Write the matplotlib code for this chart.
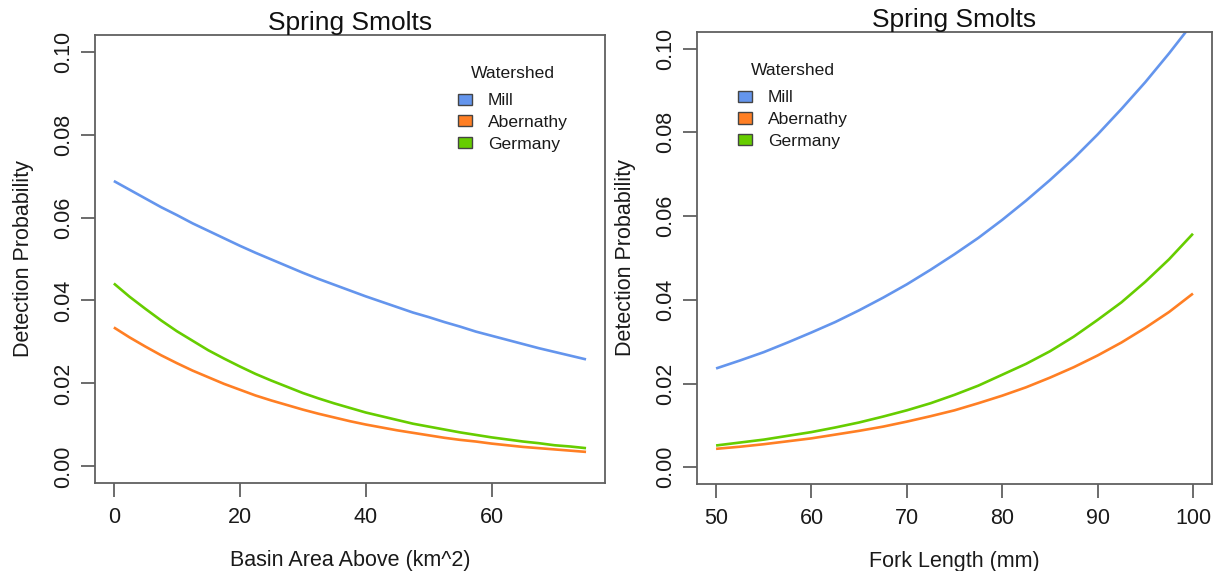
import matplotlib
matplotlib.use("Agg")
import matplotlib.pyplot as plt
from matplotlib.patches import Patch

plt.rcParams['font.family'] = ['Liberation Sans', 'DejaVu Sans']

# watershed names and colours
watersheds = ['Mill', 'Abernathy', 'Germany']
colors = ['#6495ED', '#FF7F24', '#66CD00']

# left panel: basin area above (km^2), read every 2.5
basin_area = [0, 2.5, 5, 7.5, 10, 12.5, 15, 17.5, 20, 22.5, 25, 27.5, 30, 32.5, 35,
              37.5, 40, 42.5, 45, 47.5, 50, 52.5, 55, 57.5, 60, 62.5, 65, 67.5, 70,
              72.5, 75]
basin_mill = [0.0688, 0.0667, 0.0646, 0.0625, 0.0606, 0.0586, 0.0568, 0.0550,
              0.0532, 0.0515, 0.0499, 0.0483, 0.0467, 0.0452, 0.0438, 0.0424,
              0.0410, 0.0397, 0.0384, 0.0371, 0.0360, 0.0348, 0.0337, 0.0325,
              0.0315, 0.0305, 0.0295, 0.0285, 0.0276, 0.0267, 0.0258]
basin_abernathy = [0.0335, 0.0311, 0.0289, 0.0268, 0.0249, 0.0231, 0.0215, 0.0199,
                   0.0185, 0.0171, 0.0159, 0.0148, 0.0137, 0.0127, 0.0118, 0.0109,
                   0.0101, 0.0094, 0.0087, 0.0081, 0.0075, 0.0069, 0.0064, 0.0060,
                   0.0055, 0.0051, 0.0047, 0.0044, 0.0041, 0.0038, 0.0035]
basin_germany = [0.0441, 0.0409, 0.0380, 0.0352, 0.0326, 0.0303, 0.0280, 0.0260,
                 0.0241, 0.0223, 0.0207, 0.0192, 0.0177, 0.0164, 0.0152, 0.0141,
                 0.0130, 0.0121, 0.0112, 0.0103, 0.0096, 0.0089, 0.0082, 0.0076,
                 0.0070, 0.0065, 0.0060, 0.0056, 0.0051, 0.0048, 0.0044]

# right panel: fork length (mm), read every 2.5
fork_length = [50, 52.5, 55, 57.5, 60, 62.5, 65, 67.5, 70, 72.5, 75, 77.5, 80,
               82.5, 85, 87.5, 90, 92.5, 95, 97.5, 100]
fork_mill = [0.0236, 0.0255, 0.0275, 0.0298, 0.0322, 0.0347, 0.0375, 0.0405,
             0.0437, 0.0472, 0.0509, 0.0548, 0.0591, 0.0637, 0.0686, 0.0738,
             0.0795, 0.0856, 0.0920, 0.0989, 0.1062]
fork_abernathy = [0.0044, 0.0049, 0.0055, 0.0062, 0.0069, 0.0078, 0.0087, 0.0097,
                  0.0109, 0.0122, 0.0136, 0.0153, 0.0171, 0.0191, 0.0214, 0.0239,
                  0.0267, 0.0298, 0.0333, 0.0371, 0.0415]
fork_germany = [0.0052, 0.0059, 0.0066, 0.0075, 0.0084, 0.0095, 0.0107, 0.0121,
                0.0136, 0.0153, 0.0173, 0.0195, 0.0221, 0.0247, 0.0277, 0.0312,
                0.0352, 0.0394, 0.0443, 0.0497, 0.0558]

y_ticks = [0.00, 0.02, 0.04, 0.06, 0.08, 0.10]
y_ticklabels = ['0.00', '0.02', '0.04', '0.06', '0.08', '0.10']

box_col = '#606060'
fs = 15.5

fig = plt.figure(figsize=(12.13, 5.71), dpi=100)
ax1 = fig.add_axes([0.0783, 0.1541, 0.4204, 0.7846])
ax2 = fig.add_axes([0.5746, 0.1524, 0.4246, 0.7916])


def style_panel(ax, x, series, xlim, xticks, xlabel, legend_xy):
    for vals, col in zip(series, colors):
        ax.plot(x, vals, color=col, lw=1.9, solid_capstyle='butt')
    ax.set_xlim(*xlim)
    ax.set_ylim(-0.004, 0.104)
    ax.set_xticks(xticks)
    ax.set_xticklabels([str(t) for t in xticks])
    ax.set_yticks(y_ticks)
    ax.set_yticklabels(y_ticklabels, rotation=90, va='center')
    ax.tick_params(direction='out', length=10, width=1.3, color=box_col,
                   labelsize=fs, labelcolor='#1a1a1a')
    ax.tick_params(axis='x', pad=7)
    ax.tick_params(axis='y', pad=5)
    for sp in ax.spines.values():
        sp.set_color(box_col)
        sp.set_linewidth(1.3)
    ax.set_xlabel(xlabel, fontsize=fs, color='#1a1a1a', labelpad=16)
    ax.set_ylabel('Detection Probability', fontsize=fs, color='#1a1a1a', labelpad=14)
    ax.set_title('Spring Smolts', fontsize=19, color='#111111', pad=2.5)
    handles = [Patch(facecolor=c, edgecolor='#444444', linewidth=1.0) for c in colors]
    leg = ax.legend(handles, watersheds, title='Watershed', loc='upper left',
                    bbox_to_anchor=legend_xy, frameon=False, fontsize=12.6,
                    title_fontsize=12.6, handlelength=0.8, handleheight=0.6,
                    handletextpad=0.9, labelspacing=0.38, borderpad=0,
                    borderaxespad=0)
    leg._legend_box.sep = 8.7  # gap between title and first entry
    for t in leg.get_texts():
        t.set_color('#1a1a1a')
    leg.get_title().set_color('#1a1a1a')


style_panel(ax1, basin_area, [basin_mill, basin_abernathy, basin_germany],
            (-3, 78), [0, 20, 40, 60], 'Basin Area Above (km^2)', (0.712, 0.93))
style_panel(ax2, fork_length, [fork_mill, fork_abernathy, fork_germany],
            (48, 102), [50, 60, 70, 80, 90, 100], 'Fork Length (mm)', (0.0796, 0.9305))

fig.savefig('out.png', dpi=100)
